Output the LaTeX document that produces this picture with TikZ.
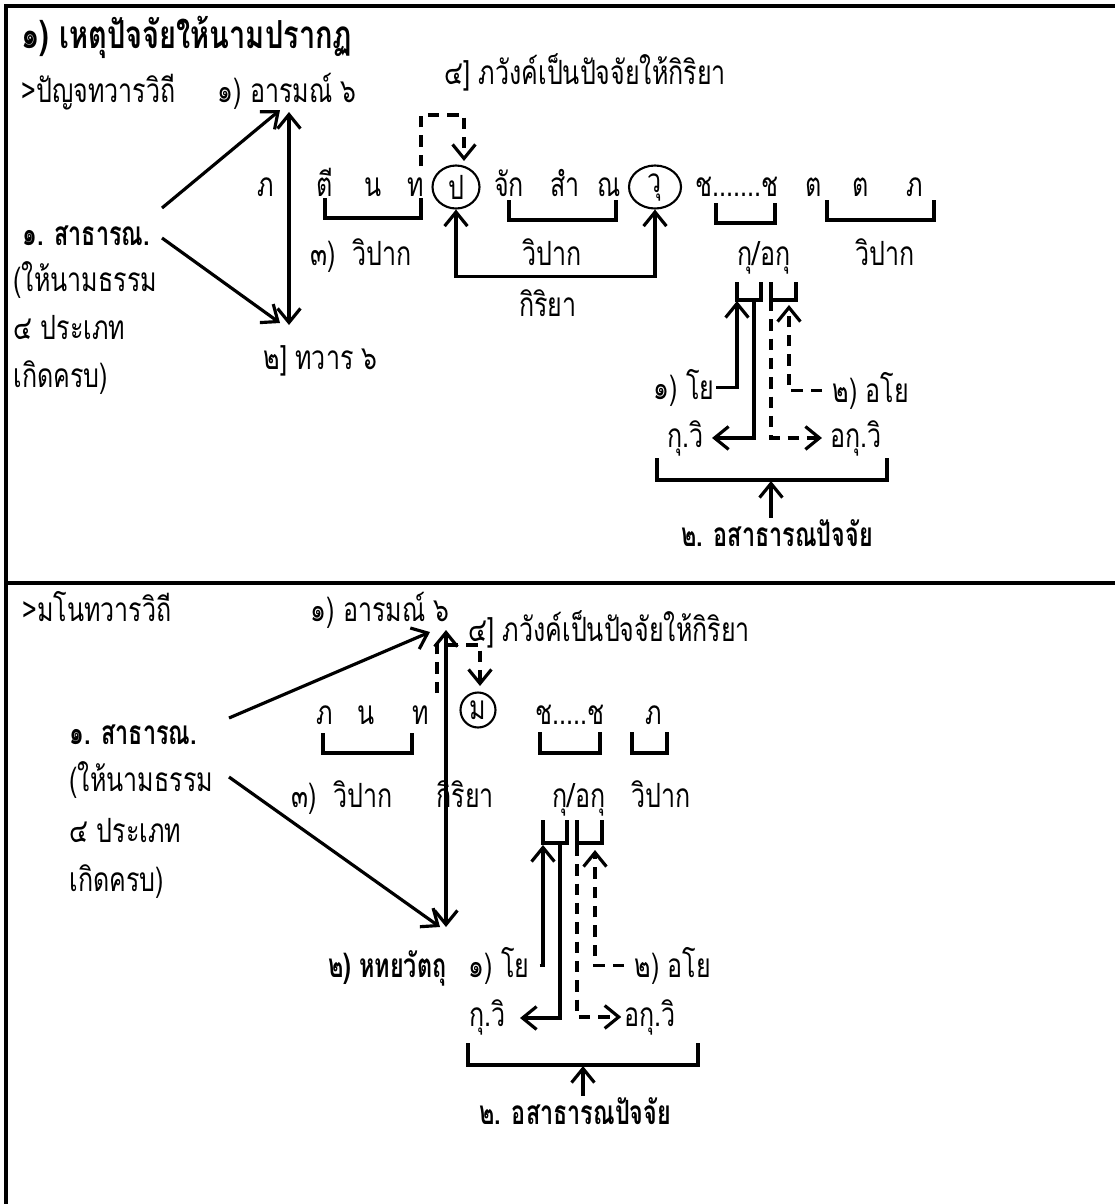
\documentclass[tikz,border=0pt]{standalone}
\usepackage{fontspec}
\newfontfamily\thai[Script=Thai, FakeStretch=0.75, BoldFeatures={FakeStretch=0.7}]{Loma}
\newfontfamily\thaihead[Script=Thai, FakeStretch=0.75]{Loma}
\usetikzlibrary{arrows.meta,shapes.geometric}

\tikzset{
  txt/.style={font=\thai\fontsize{19}{21}\selectfont, inner sep=0pt},
  bld/.style={font=\thai\bfseries\fontsize{19}{21}\selectfont, inner sep=0pt},
  dsh/.style={dash pattern=on 6.5pt off 4.5pt},
  brk/.style={line width=2pt},
  ring/.style={draw, ellipse, line width=1.2pt, inner sep=0pt, font=\thai\fontsize{19}{21}\selectfont},
  frame/.style={line width=2pt}
}

\begin{document}
\begin{tikzpicture}[x=0.02cm, y=-0.02cm, line width=1.8pt, >={Straight Barb[length=8pt,width=13pt]}]
    \useasboundingbox (0,0) rectangle (1115,1204);
    % Frame
    \draw[frame] (6,1204) -- (6,6) -- (1115,6);
    \draw[frame] (6,583) -- (1115,583);

    % Nodes (upper part)
    \node[anchor=base west, inner sep=0pt, font=\thaihead\bfseries\fontsize{22}{24}\selectfont] (title) at (20,48) {๑) เหตุปัจจัยให้นามปรากฏ};
    \node[txt, anchor=base west] (path1) at (20,102) {>ปัญจทวารวิถี};
    \node[txt, anchor=base west] (arom1) at (216,102) {๑) อารมณ์ ๖};
    \node[txt, anchor=base west] (bhav1) at (443,84) {๔] ภวังค์เป็นปัจจัยให้กิริยา};
    \node[bld, anchor=base west] (sadh1) at (21,245) {๑. สาธารณ.};
    \node[txt, anchor=base west] (give1) at (12,291) {(ให้นามธรรม};
    \node[txt, anchor=base west] (four1) at (12,339) {๔ ประเภท};
    \node[txt, anchor=base west] (full1) at (12,387) {เกิดครบ)};
    \node[txt, anchor=base west] (door1) at (262,369) {๒] ทวาร ๖};

    \node[txt, anchor=base] (bh1) at (266,196) {ภ};
    \node[txt, anchor=base] (ti) at (325,196) {ตี};
    \node[txt, anchor=base] (na1) at (373,196) {น};
    \node[txt, anchor=base] (tha1) at (416,196) {ท};
    \node[ring, minimum width=0.94cm, minimum height=0.86cm] (pa) at (456,187) {ป};
    \node[txt, anchor=base] (jak) at (509,196) {จัก};
    \node[txt, anchor=base] (sam) at (565,196) {สำ};
    \node[txt, anchor=base] (nan) at (609,196) {ณ};
    \node[ring, minimum width=1.04cm, minimum height=0.86cm] (wu) at (655,187) {วุ};
    \node[txt, anchor=base] (chch1) at (737,196) {ช.......ช};
    \node[txt, anchor=base] (ta1) at (814,196) {ต};
    \node[txt, anchor=base] (ta2) at (861,196) {ต};
    \node[txt, anchor=base] (bh2) at (915,196) {ภ};

    \node[txt, anchor=base west] (vip1) at (309,265) {๓)\ \ วิปาก};
    \node[txt, anchor=base] (vip2) at (552,265) {วิปาก};
    \node[txt, anchor=base] (kua1) at (764,265) {กุ/อกุ};
    \node[txt, anchor=base] (vip3) at (885,265) {วิปาก};
    \node[txt, anchor=base] (kiri1) at (548,316) {กิริยา};

    \node[txt, anchor=base east] (yo1) at (716,399) {๑) โย};
    \node[txt, anchor=base west] (ayo1) at (831,402) {๒) อโย};
    \node[txt, anchor=base east] (kv1) at (705,447) {กุ.วิ};
    \node[txt, anchor=base west] (akv1) at (829,447) {อกุ.วิ};
    \node[bld, anchor=base] (asad1) at (777,546) {๒. อสาธารณปัจจัย};

    \coordinate (s1a) at (162,208);
    \coordinate (s1b) at (162,238);
    \coordinate (a1t) at (280,110);
    \coordinate (a1b) at (280,323);
    \coordinate (v1t) at (289,112);
    \coordinate (v1b) at (289,325);
    \coordinate (d1) at (421,166);
    \coordinate (pain) at (464,161);
    \coordinate (br1) at (737,301);
    \coordinate (br2) at (789,305);
    \coordinate (bb1) at (771,481);

    % Brackets
    \draw[brk] (325,198) |- (421,218) -- (421,198);
    \draw[brk] (509,200) |- (616,220) -- (616,200);
    \draw[brk] (716,203) |- (775,223) -- (775,203);
    \draw[brk] (827,200) |- (934,220) -- (934,200);
    \draw[brk] (737,282) |- (761,300) -- (761,282);
    \draw[brk] (771,282) |- (796,300) -- (796,282);
    \draw[brk] (657,458) |- (887,480) -- (887,458);

    % Arrows
    \draw[->] (s1a) -- (a1t);
    \draw[->] (s1b) -- (a1b);
    \draw[<->] (v1t) -- (v1b);
    \draw[dsh, ->] (d1) |- (pain |- 0,115) -- (pain);
    \draw[<->] (pa.south) -- ++(0,67) -| (wu.south);
    \draw[->] (yo1.east) -| (br1);
    \draw[->, shorten >=4pt] (754,300) |- (kv1.east);
    \draw[dsh, ->, shorten >=4pt] (771,300) |- (akv1.west);
    \draw[dsh, ->, shorten <=5pt] (ayo1.west) -| (br2);
    \draw[->] (asad1.north -| bb1) -- (bb1);

    % Nodes (lower part)
    \node[txt, anchor=base west] (path2) at (21,621) {>มโนทวารวิถี};
    \node[txt, anchor=base west] (arom2) at (309,621) {๑) อารมณ์ ๖};
    \node[txt, anchor=base west] (bhav2) at (467,641) {๔] ภวังค์เป็นปัจจัยให้กิริยา};
    \node[bld, anchor=base west] (sadh2) at (68,744) {๑. สาธารณ.};
    \node[txt, anchor=base west] (give2) at (68,791) {(ให้นามธรรม};
    \node[txt, anchor=base west] (four2) at (68,842) {๔ ประเภท};
    \node[txt, anchor=base west] (full2) at (68,891) {เกิดครบ)};

    \node[txt, anchor=base] (bh3) at (325,724) {ภ};
    \node[txt, anchor=base] (na2) at (366,724) {น};
    \node[txt, anchor=base] (tha2) at (421,724) {ท};
    \node[ring, circle, minimum size=0.7cm] (mo) at (478,710) {ม};
    \node[txt, anchor=base] (chch2) at (570,724) {ช.....ช};
    \node[txt, anchor=base] (bh4) at (654,724) {ภ};

    \node[txt, anchor=base west] (vip4) at (290,807) {๓)\ \ วิปาก};
    \node[txt, anchor=base west] (kiri2) at (435,807) {กิริยา};
    \node[txt, anchor=base] (kua2) at (579,807) {กุ/อกุ};
    \node[txt, anchor=base] (vip5) at (661,807) {วิปาก};

    \node[bld, anchor=base east] (hadaya) at (448,977) {๒) หทยวัตถุ};
    \node[txt, anchor=base west] (yo2) at (467,977) {๑) โย};
    \node[txt, anchor=base west] (ayo2) at (633,977) {๒) อโย};
    \node[txt, anchor=base west] (kv2) at (468,1026) {กุ.วิ};
    \node[txt, anchor=base west] (akv2) at (623,1026) {อกุ.วิ};
    \node[bld, anchor=base west] (asad2) at (478,1124) {๒. อสาธารณปัจจัย};

    \coordinate (s2a) at (229,718);
    \coordinate (s2b) at (229,777);
    \coordinate (a2t) at (430,632);
    \coordinate (a2b) at (440,927);
    \coordinate (v2t) at (446,630);
    \coordinate (v2b) at (446,927);
    \coordinate (d2) at (437,693);
    \coordinate (moin) at (480,686);
    \coordinate (br3) at (543,845);
    \coordinate (br4) at (595,850);
    \coordinate (kv2in) at (520,1018);
    \coordinate (bb2) at (583,1066);

    % Brackets
    \draw[brk] (323,733) |- (412,753) -- (412,733);
    \draw[brk] (540,732) |- (600,753) -- (600,732);
    \draw[brk] (632,732) |- (667,753) -- (667,732);
    \draw[brk] (543,820) |- (567,843) -- (567,820);
    \draw[brk] (577,820) |- (602,843) -- (602,820);
    \draw[brk] (468,1043) |- (698,1065) -- (698,1043);

    % Arrows
    \draw[->] (s2a) -- (a2t);
    \draw[->] (s2b) -- (a2b);
    \draw[<->] (v2t) -- (v2b);
    \draw[dsh, ->] (d2) |- (moin |- 0,645) -- (moin);
    \draw[->, shorten <=5pt] (yo2.east) -| (br3);
    \draw[->] (560,843) |- (kv2in);
    \draw[dsh, ->, shorten >=1pt] (577,845) |- (akv2.west);
    \draw[dsh, ->, shorten <=5pt] (ayo2.west) -| (br4);
    \draw[->] (asad2.north -| bb2) -- (bb2);
\end{tikzpicture}
\end{document}
